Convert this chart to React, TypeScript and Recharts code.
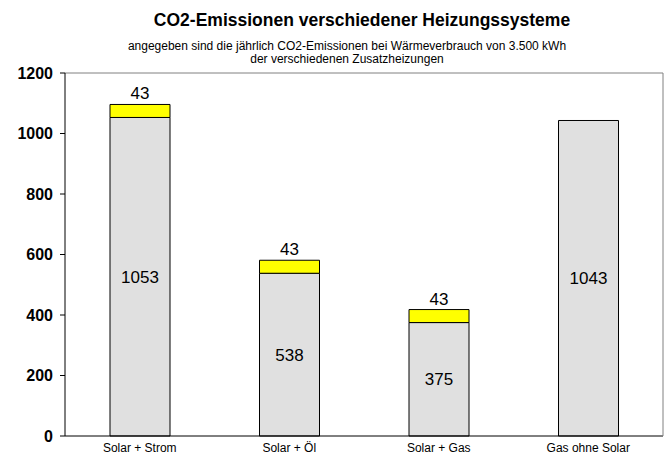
import React from 'react';
import { BarChart, Bar, XAxis, YAxis, LabelList, ReferenceLine } from 'recharts';

const categories = ['Solar + Strom', 'Solar + Öl', 'Solar + Gas', 'Gas ohne Solar'];
const baseValues = [1053, 538, 375, 1043];
const solarValues = [43, 43, 43, 0];
const yTicks = [0, 200, 400, 600, 800, 1000, 1200];
const boundaryTicks = [0, 1, 2, 3, 4];

const data = categories.map((name, i) => ({ name, base: baseValues[i], add: solarValues[i] }));

const FONT = '"Liberation Sans", Arial, sans-serif';

export default function App() {
  return (
    <div style={{ position: 'absolute', left: 0, top: 0, width: 667, height: 452, background: '#fff', fontFamily: FONT }}>
      <div style={{ position: 'absolute', left: 0, top: 10, width: 724, textAlign: 'center', fontSize: 17.5, lineHeight: '20px', fontWeight: 'bold', color: '#000', whiteSpace: 'nowrap' }}>
        CO2-Emissionen verschiedener Heizungssysteme
      </div>
      <div style={{ position: 'absolute', left: 0, top: 40, width: 694, textAlign: 'center', fontSize: 12, lineHeight: '13px', color: '#000', whiteSpace: 'nowrap' }}>
        angegeben sind die jährlich CO2-Emissionen bei Wärmeverbrauch von 3.500 kWh
        <br />
        der verschiedenen Zusatzheizungen
      </div>
      <div style={{ position: 'absolute', left: 0, top: 0 }}>
        <BarChart width={667} height={452} data={data} margin={{ top: 73, right: 0, bottom: 0, left: 0 }} barSize={60}>
          <XAxis
            xAxisId="num"
            type="number"
            domain={[0, 4]}
            ticks={boundaryTicks}
            allowDataOverflow
            height={0}
            axisLine={false}
            tickLine={{ stroke: '#000' }}
            tickSize={5}
            tickFormatter={() => ''}
          />
          <XAxis
            dataKey="name"
            height={16}
            axisLine={{ stroke: '#000' }}
            tickLine={false}
            tick={{ fill: '#000', fontSize: 12, fontFamily: FONT }}
            tickMargin={1}
            interval={0}
          />
          <YAxis
            domain={[0, 1200]}
            ticks={yTicks}
            width={65}
            axisLine={{ stroke: '#000' }}
            tickLine={{ stroke: '#000' }}
            tickSize={5}
            tickMargin={7}
            tick={{ fill: '#000', fontSize: 16, fontWeight: 'bold', fontFamily: FONT }}
          />
          <YAxis yAxisId="right" orientation="right" width={4} domain={[0, 1200]} tick={false} tickLine={false} axisLine={{ stroke: '#808080' }} />
          <ReferenceLine y={1200} stroke="#808080" />
          <Bar dataKey="base" stackId="a" fill="#e0e0e0" stroke="#000" strokeWidth={1} isAnimationActive={false}>
            <LabelList dataKey="base" position="center" fill="#000" fontSize={17} fontFamily={FONT} />
          </Bar>
          <Bar dataKey="add" stackId="a" fill="#ffff00" stroke="#000" strokeWidth={1} isAnimationActive={false}>
            <LabelList dataKey="add" position="top" fill="#000" fontSize={17} fontFamily={FONT} formatter={(v: any) => (v ? v : '')} />
          </Bar>
        </BarChart>
      </div>
    </div>
  );
}
